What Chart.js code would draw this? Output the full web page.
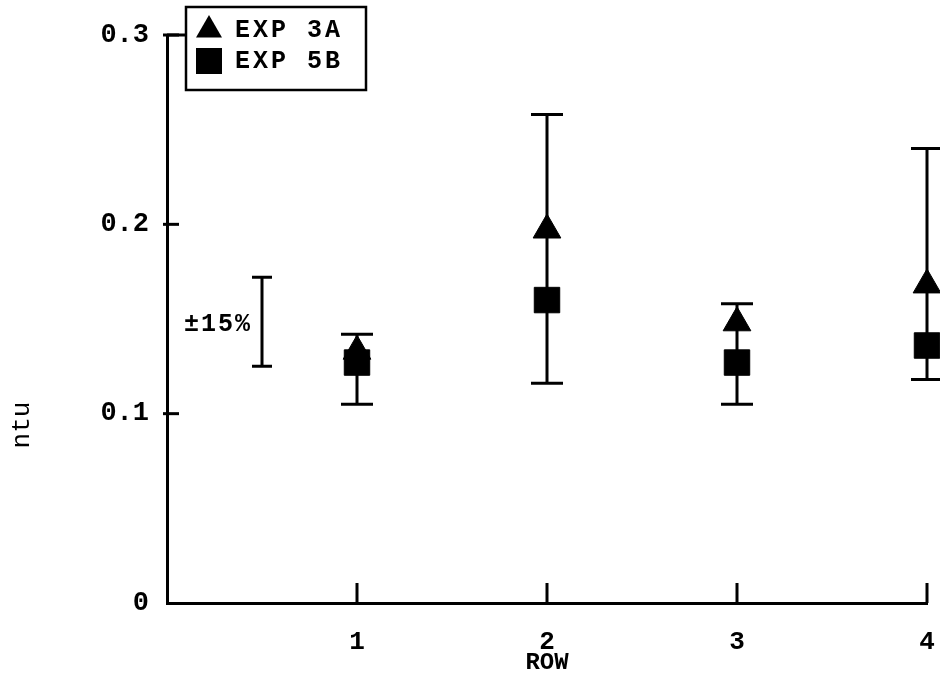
<!DOCTYPE html>
<html>
<head>
<meta charset="utf-8">
<script src="https://cdn.jsdelivr.net/npm/chart.js@4.4.1/dist/chart.umd.min.js"></script>
<style>
  body { margin: 0; background: #fff; }
  #wrap { width: 940px; height: 679px; }
</style>
</head>
<body>
<div id="wrap"><canvas id="grafica" width="940" height="679"></canvas></div>
<script>
// datos
const rows = [1, 2, 3, 4];
const exp3a = [0.133, 0.197, 0.148, 0.168];
const exp5b = [0.127, 0.160, 0.127, 0.136];
const errLow = [0.105, 0.116, 0.105, 0.118];
const errHigh = [0.142, 0.258, 0.158, 0.240];
const refX = 0.5;            // barra de referencia ±15%
const refLow = 0.125;
const refHigh = 0.172;
const refLabel = '±15%';
const xTickLabels = ['', '1', '2', '3', '4'];
const yTickLabels = ['0', '0.1', '0.2', '0.3'];
const seriesNames = ['EXP 3A', 'EXP 5B'];

const mono = "'Liberation Mono', 'DejaVu Sans Mono', monospace";

// barras de error, marcas de los ejes, leyenda y textos sueltos
const extras = {
    id: 'extras',
    beforeDatasetsDraw(chart) {
        const { ctx, scales: { x, y } } = chart;
        ctx.save();
        ctx.strokeStyle = '#000';
        ctx.lineWidth = 3;
        const bar = (px, lo, hi, cap) => {
            ctx.beginPath();
            ctx.moveTo(px, lo); ctx.lineTo(px, hi);
            ctx.moveTo(px - cap, lo); ctx.lineTo(px + cap, lo);
            ctx.moveTo(px - cap, hi); ctx.lineTo(px + cap, hi);
            ctx.stroke();
        };
        rows.forEach((r, i) => {
            bar(x.getPixelForValue(r), y.getPixelForValue(errLow[i]), y.getPixelForValue(errHigh[i]), 16);
        });
        bar(x.getPixelForValue(refX), y.getPixelForValue(refLow), y.getPixelForValue(refHigh), 10);

        // marcas hacia adentro
        const left = chart.chartArea.left, bottom = chart.chartArea.bottom;
        y.ticks.forEach(t => {
            if (t.value === 0) return;
            const py = y.getPixelForValue(t.value);
            ctx.beginPath();
            ctx.moveTo(left - 4, py); ctx.lineTo(left + 12, py);
            ctx.stroke();
        });
        x.ticks.forEach(t => {
            if (t.value === 0) return;
            const px = x.getPixelForValue(t.value);
            ctx.beginPath();
            ctx.moveTo(px, bottom); ctx.lineTo(px, bottom - 20);
            ctx.stroke();
        });

        // texto ±15%
        ctx.fillStyle = '#000';
        ctx.font = 'bold 25px ' + mono;
        ctx.textAlign = 'right';
        ctx.textBaseline = 'middle';
        ctx.letterSpacing = '2px';
        ctx.fillText(refLabel, x.getPixelForValue(refX) - 10, y.getPixelForValue((refLow + refHigh) / 2) + 3);
        ctx.restore();
    },
    afterDraw(chart) {
        const { ctx, chartArea } = chart;
        ctx.save();
        ctx.fillStyle = '#000';
        ctx.strokeStyle = '#000';

        // leyenda con recuadro
        const bx = 186, by = 7, bw = 180, bh = 83;
        ctx.lineWidth = 2.5;
        ctx.strokeRect(bx, by, bw, bh);
        // linea de 0.3 hasta la caja
        ctx.lineWidth = 3;
        ctx.beginPath();
        ctx.moveTo(chartArea.left, chartArea.top);
        ctx.lineTo(bx, chartArea.top);
        ctx.stroke();

        ctx.font = 'bold 25px ' + mono;
        ctx.textAlign = 'left';
        ctx.textBaseline = 'middle';
        ctx.letterSpacing = '3px';
        chart.data.datasets.forEach((ds, i) => {
            const cy = i === 0 ? 30 : 61;
            const cx = 209;
            ctx.beginPath();
            if (ds.pointStyle === 'triangle') {
                const r = 15;
                ctx.moveTo(cx, cy - r);
                ctx.lineTo(cx + r * 0.866, cy + r / 2);
                ctx.lineTo(cx - r * 0.866, cy + r / 2);
                ctx.closePath();
            } else {
                ctx.rect(cx - 13, cy - 13, 26, 26);
            }
            ctx.fill();
            ctx.fillText(ds.label, 235, cy + 1);
        });

        // titulo eje Y
        ctx.font = '26px ' + mono;
        ctx.letterSpacing = '0px';
        ctx.textAlign = 'center';
        ctx.translate(22, 425);
        ctx.rotate(-Math.PI / 2);
        ctx.fillText('ntu', 0, 0);
        ctx.restore();
    }
};

const ctx = document.getElementById('grafica').getContext('2d');
const chart = new Chart(ctx, {
    type: 'scatter',
    data: {
        datasets: [{
            label: seriesNames[0],
            data: rows.map((r, i) => ({ x: r, y: exp3a[i] })),
            pointStyle: 'triangle',
            pointRadius: 16,
            pointHoverRadius: 16,
            backgroundColor: '#000',
            borderColor: '#000',
            borderWidth: 1,
            clip: false
        }, {
            label: seriesNames[1],
            data: rows.map((r, i) => ({ x: r, y: exp5b[i] })),
            pointStyle: 'rect',
            pointRadius: 18,
            pointHoverRadius: 18,
            backgroundColor: '#000',
            borderColor: '#000',
            borderWidth: 1,
            clip: false
        }]
    },
    options: {
        responsive: false,
        animation: false,
        devicePixelRatio: 1,
        layout: { autoPadding: false, padding: { left: 0, right: 13, top: 35, bottom: 0 } },
        plugins: {
            legend: { display: false },
            tooltip: { enabled: false }
        },
        scales: {
            x: {
                type: 'linear',
                min: 0,
                max: 4,
                afterFit: s => { s.height = 76; },
                grid: { display: false, drawTicks: true, tickLength: 24 },
                border: { display: true, color: '#000', width: 3 },
                ticks: {
                    stepSize: 1,
                    color: '#000',
                    padding: 0,
                    font: { family: mono, size: 26, weight: 'bold' },
                    callback: (v, i) => xTickLabels[i]
                },
                title: {
                    display: true,
                    text: 'ROW',
                    color: '#000',
                    padding: { top: 0, bottom: 2 },
                    font: { family: mono, size: 24, weight: 'bold' }
                }
            },
            y: {
                min: 0,
                max: 0.3,
                afterFit: s => { s.width = 167; },
                grid: { display: false },
                border: { display: true, color: '#000', width: 3 },
                ticks: {
                    stepSize: 0.1,
                    color: '#000',
                    padding: 10,
                    font: { family: mono, size: 27, weight: 'bold' },
                    callback: (v, i) => yTickLabels[i]
                }
            }
        }
    },
    plugins: [extras]
});
</script>
</body>
</html>
